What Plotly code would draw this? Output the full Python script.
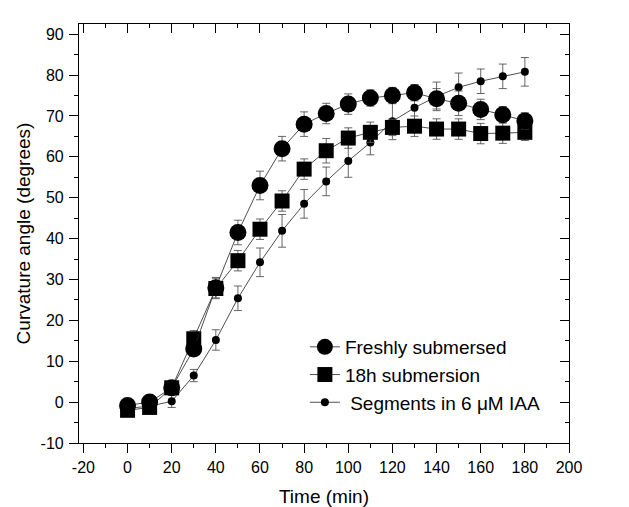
import plotly.graph_objects as go

time = [0, 10, 20, 30, 40, 50, 60, 70, 80, 90, 100, 110, 120, 130, 140, 150, 160, 170, 180]

fresh = [-0.8, 0.0, 3.5, 13.0, 28.0, 41.5, 53.0, 62.0, 68.0, 70.6, 72.9, 74.4, 75.0, 75.7, 74.2, 73.1, 71.6, 70.3, 68.8]
fresh_err = [1.0, 1.0, 1.5, 1.5, 2.5, 3.0, 3.5, 3.0, 3.0, 2.5, 2.5, 2.0, 2.0, 2.0, 2.5, 3.0, 2.5, 2.0, 2.0]

sub18 = [-2.0, -1.3, 3.5, 15.5, 27.8, 34.6, 42.3, 49.2, 57.0, 61.5, 64.6, 66.0, 67.2, 67.5, 66.8, 66.8, 65.7, 65.8, 66.0]
sub18_err = [1.0, 1.0, 1.5, 2.0, 2.5, 2.5, 2.5, 2.5, 2.5, 3.0, 2.5, 2.5, 2.0, 2.5, 2.5, 2.5, 2.5, 2.5, 2.0]

iaa = [-1.5, -1.0, 0.2, 6.5, 15.2, 25.4, 34.2, 41.9, 48.5, 54.0, 59.0, 63.5, 68.7, 72.0, 74.8, 77.0, 78.5, 79.7, 80.8]
iaa_err = [1.0, 1.0, 1.5, 1.5, 2.5, 3.0, 3.5, 4.0, 3.5, 3.5, 4.0, 3.0, 4.5, 3.5, 3.5, 3.5, 3.0, 3.0, 3.5]

names = ["Freshly submersed", "18h submersion", " Segments in 6 \u03bcM IAA"]

x_tickvals = [-20, 0, 20, 40, 60, 80, 100, 120, 140, 160, 180, 200]
x_ticktext = ["-20", "0", "20", "40", "60", "80", "100", "120", "140", "160", "180", "200"]
y_tickvals = [-10, 0, 10, 20, 30, 40, 50, 60, 70, 80, 90]
y_ticktext = ["-10", "0", "10", "20", "30", "40", "50", "60", "70", "80", "90"]

FONT = "Liberation Sans, Arial, sans-serif"

fig = go.Figure()

def add(y, err, name, symbol, size, rank):
    fig.add_trace(go.Scatter(
        x=time, y=y, name=name, mode="lines+markers", legendrank=rank,
        line=dict(color="#222222", width=0.8),
        marker=dict(symbol=symbol, size=size, color="black"),
        error_y=dict(type="data", array=err, visible=True, color="#555555", thickness=0.9, width=4),
    ))

add(iaa, iaa_err, names[2], "circle", 8, 3)
add(sub18, sub18_err, names[1], "square", 15, 2)
add(fresh, fresh_err, names[0], "circle", 17, 1)

# dummy trace for mirrored axes with inward ticks
fig.add_trace(go.Scatter(x=[None], y=[None], xaxis="x2", yaxis="y2", showlegend=False, hoverinfo="skip"))

line_common = dict(showgrid=False, zeroline=False, showline=True, linecolor="black", linewidth=1.2,
                   tickcolor="black", automargin=False)
tickfont = dict(family=FONT, size=16, color="black")

XR = [-22, 200]
YR = [-10, 92.5]

# page body has an 8px default margin: figure is offset by 8px
fig.update_layout(
    width=621, height=499,
    margin=dict(l=71, r=60, t=16, b=64),
    paper_bgcolor="white", plot_bgcolor="white",
    font=dict(family=FONT, color="black"),
    xaxis=dict(range=XR, tickmode="array", tickvals=x_tickvals, ticktext=x_ticktext,
               ticks="outside", ticklen=9, tickwidth=1, tickfont=tickfont, ticklabelstandoff=1,
               minor=dict(dtick=10, tick0=0, ticks="outside", ticklen=4, tickcolor="black"),
               title=dict(text="Time (min)", font=dict(family=FONT, size=19), standoff=14),
               **line_common),
    yaxis=dict(range=YR, tickmode="array", tickvals=y_tickvals, ticktext=y_ticktext,
               ticks="outside", ticklen=9, tickwidth=1, tickfont=tickfont, ticklabelstandoff=2,
               minor=dict(dtick=5, tick0=0, ticks="outside", ticklen=4, tickcolor="black"),
               title=dict(text="Curvature angle (degrees)", font=dict(family=FONT, size=19), standoff=4),
               **line_common),
    xaxis2=dict(range=XR, dtick=20, tick0=0, overlaying="x", side="top", ticks="inside", ticklen=9,
                showticklabels=False, minor=dict(dtick=10, ticks="inside", ticklen=4, tickcolor="black"),
                anchor="y2", **line_common),
    yaxis2=dict(range=YR, dtick=10, tick0=0, overlaying="y", side="right", ticks="inside", ticklen=9,
                showticklabels=False, minor=dict(dtick=5, ticks="inside", ticklen=4, tickcolor="black"),
                anchor="x2", **line_common),
    legend=dict(x=0.461, y=0.2745, xanchor="left", yanchor="top", bgcolor="rgba(0,0,0,0)",
                font=dict(family=FONT, size=19, color="black"), tracegroupgap=0, itemsizing="trace"),
    showlegend=True,
)

fig.write_html("out.html")
